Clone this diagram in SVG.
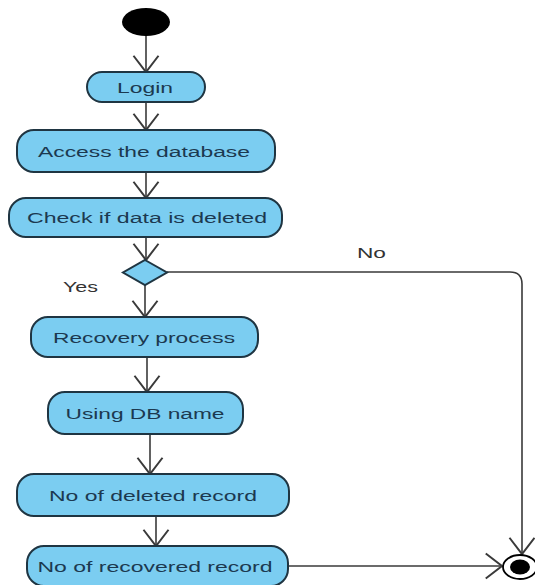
<svg xmlns="http://www.w3.org/2000/svg" width="535" height="585" viewBox="0 0 535 585">
<defs>
<marker id="arr" markerUnits="userSpaceOnUse" markerWidth="30" markerHeight="30" viewBox="-16 -12 20 24" refX="0" refY="0" orient="auto">
<path d="M-13,-10 L0,0 L-13,10" fill="none" stroke="#3a3a3a" stroke-width="1.6"/>
</marker>
<style>
.node rect{fill:#7bcdf1;stroke:#1f3542;stroke-width:2}
.node text{font-family:"Liberation Sans",Arial,sans-serif;font-size:15.5px;fill:#1c3950;text-anchor:middle}
.edge{fill:none;stroke:#3a3a3a;stroke-width:1.6;marker-end:url(#arr)}
.lbl{font-family:"Liberation Sans",Arial,sans-serif;font-size:14px;fill:#333}
</style>
</defs>
<rect width="535" height="585" fill="#fff"/>
<g id="connectors">
<path class="edge" d="M146,35 V72"/>
<path class="edge" d="M146,102 V130"/>
<path class="edge" d="M146,172 V198"/>
<path class="edge" d="M146,237 V260"/>
<path class="edge" d="M145,285 V317"/>
<path class="edge" d="M147,357 V392"/>
<path class="edge" d="M150,434 V474"/>
<path class="edge" d="M156,516 V546"/>
<path class="edge" d="M167,272 H510 Q522,272 522,284 V554"/>
<path class="edge" d="M289,566 H502"/>
<text class="lbl" x="357" y="258" textLength="29" lengthAdjust="spacingAndGlyphs">No</text>
<text class="lbl" x="63" y="292" textLength="35" lengthAdjust="spacingAndGlyphs">Yes</text>
</g>
<g id="start"><ellipse cx="146" cy="22" rx="24" ry="14" fill="#000"/></g>
<g id="login" class="node"><rect x="87" y="72" width="118" height="30" rx="15"/><text x="145" y="92.5" textLength="56" lengthAdjust="spacingAndGlyphs">Login</text></g>
<g id="access" class="node"><rect x="17" y="130" width="258" height="42" rx="17"/><text x="144" y="156.5" textLength="212" lengthAdjust="spacingAndGlyphs">Access the database</text></g>
<g id="check" class="node"><rect x="9" y="198" width="273" height="39" rx="17"/><text x="147" y="223" textLength="240" lengthAdjust="spacingAndGlyphs">Check if data is deleted</text></g>
<g id="decision"><path d="M145,260 L167,272.5 L145,285 L123,272.5 Z" fill="#7bcdf1" stroke="#1f3542" stroke-width="2"/></g>
<g id="recovery" class="node"><rect x="31" y="317" width="227" height="40" rx="17"/><text x="144" y="342.5" textLength="182" lengthAdjust="spacingAndGlyphs">Recovery process</text></g>
<g id="usingdb" class="node"><rect x="48" y="392" width="195" height="42" rx="17"/><text x="145" y="418.5" textLength="159" lengthAdjust="spacingAndGlyphs">Using DB name</text></g>
<g id="deleted" class="node"><rect x="17" y="474" width="272" height="42" rx="17"/><text x="153" y="500.5" textLength="208" lengthAdjust="spacingAndGlyphs">No of deleted record</text></g>
<g id="recovered" class="node"><rect x="27" y="546" width="261" height="40" rx="17"/><text x="155" y="571.5" textLength="235" lengthAdjust="spacingAndGlyphs">No of recovered record</text></g>
<g id="end"><ellipse cx="520" cy="567" rx="17" ry="12" fill="#fff" stroke="#000" stroke-width="1.8"/><ellipse cx="520" cy="567" rx="10" ry="7.5" fill="#000"/></g>
</svg>
